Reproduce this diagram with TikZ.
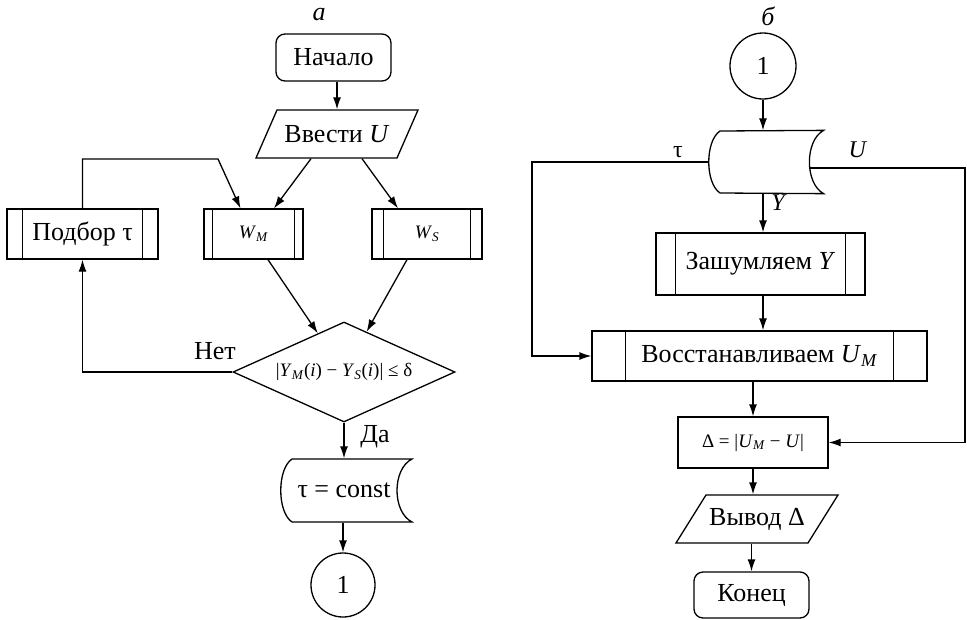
\documentclass[tikz,border=0pt]{standalone}
\usepackage{fontspec}
\setmainfont{Liberation Serif}
\usetikzlibrary{arrows.meta,calc,shapes.geometric}
\newcommand\pbars[2]{\draw ([xshift=#2]#1.north west) -- ([xshift=#2]#1.south west) ([xshift=-#2]#1.north east) -- ([xshift=-#2]#1.south east);}
\begin{document}
\begin{tikzpicture}[x=1pt,y=-1pt, line width=1.3pt,
 arr/.style={-{Latex[length=12pt,width=8pt]}},
 every node/.style={font=\fontsize{26}{30}\selectfont, inner sep=0pt},
 box/.style={draw, rectangle},
 ghost/.style={rectangle, draw=none},
 small/.style={font=\fontsize{19}{22}\selectfont},
 lbl/.style={font=\fontsize{24}{28}\selectfont},
 ttl/.style={font=\itshape\fontsize{26}{30}\selectfont}]
\useasboundingbox (0,0) rectangle (967,619);

% ---------- left diagram (a)
\node[ttl] (la) at (319,15) {а};
\node[box, rounded corners=9pt, minimum width=115pt, minimum height=47pt] (start) at (333.5,57.5) {Начало};
\node[ghost, minimum width=120pt, minimum height=48pt] (inU) at (337,134) {Ввести \textit{U}};
\draw ($(inU.center)+(-60,-24)$) -- ++(141,0) -- ++(-21,48) -- ++(-141,0) -- cycle;

\node[box, minimum width=151pt, minimum height=50pt] (pod) at (82.5,234) {Подбор τ};
\pbars{pod}{16}
\node[box, minimum width=99pt, minimum height=50pt, small] (wm) at (253.5,234) {\textit{W}\textsubscript{\textit{M}}};
\pbars{wm}{9}
\node[box, minimum width=110pt, minimum height=50pt, small] (ws) at (427,234) {\textit{W}\textsubscript{\textit{S}}};
\pbars{ws}{12}

\node[diamond, draw, minimum width=222pt, minimum height=100pt, aspect=2.2, small] (dia) at (344,372)
  {|\textit{Y}\textsubscript{\textit{M}}(\textit{i}) − \textit{Y}\textsubscript{\textit{S}}(\textit{i})| ≤ δ};

\node[ghost, minimum width=120pt, minimum height=63pt] (tc) at (344,490.5) {τ = const};
\draw ($(tc.center)+(-52,-31.5)$) -- ($(tc.center)+(68,-31.5)$)
  .. controls +(-20,10) and +(-20,-10) .. ($(tc.center)+(68,31.5)$)
  -- ($(tc.center)+(-52,31.5)$)
  .. controls +(-15,-10) and +(-15,10) .. ($(tc.center)+(-52,-31.5)$) -- cycle;

\node[draw, circle, minimum size=64pt] (c1) at (343,585) {1};

\draw[arr] (inU.north |- start.south) -- (inU.north);
\draw[arr] ($(inU.south)+(-26,0)$) -- ($(wm.north)+(20.5,0)$);
\draw[arr] ($(inU.south)+(25,0)$) -- ($(ws.north)+(-29,0)$);
\coordinate (fb) at (218,159);
\draw[arr] (pod.north) |- (fb) -- ($(wm.north)+(-13,0)$);
\draw[arr] ($(wm.south)+(14.5,0)$) -- (dia);
\draw[arr] ($(ws.south)+(-20,0)$) -- (dia);
\draw[arr] (dia.west) -| (pod.south);
\node (net) at (215,351) {Нет};
\draw[arr] (dia.south) -- (dia.south |- tc.north);
\node (da) at (375,437) {Да};
\draw[arr] (c1.north |- tc.south) -- (c1.north);

% ---------- right diagram (b)
\node[ttl] (lb) at (768,16) {б};
\node[draw, circle, minimum size=66pt] (c2) at (763,66) {1};
\node[ghost, minimum width=114pt, minimum height=62pt] (st) at (766,162) {};
\draw ($(st.center)+(-46,-31)$) -- (st.north east)
  .. controls +(-19,10) and +(-19,-10) .. (st.south east)
  -- ($(st.center)+(-46,31)$)
  .. controls +(-15,-10) and +(-15,10) .. ($(st.center)+(-46,-31)$) -- cycle;

\node[box, minimum width=209pt, minimum height=62pt] (zy) at (760.5,264) {Зашумляем \textit{Y}};
\pbars{zy}{20}
\node[box, minimum width=335pt, minimum height=50pt] (vos) at (759.5,356) {Восстанавливаем \textit{U}\textsubscript{\textit{M}}};
\pbars{vos}{34}
\node[box, minimum width=150pt, minimum height=51pt, small] (delta) at (753,442.5) {Δ = |\textit{U}\textsubscript{\textit{M}} − \textit{U}|};
\node[ghost, minimum width=110pt, minimum height=48pt] (out) at (757,519) {Вывод Δ};
\draw ($(out.center)+(-51,-24)$) -- ++(132,0) -- ++(-30,48) -- ++(-132,0) -- cycle;
\node[box, rounded corners=9pt, minimum width=115pt, minimum height=46pt] (fin) at (751.5,595) {Конец};

\draw[arr] (c2.south) -- (c2.south |- st.north);
\coordinate (tl) at (532,162);
\draw[arr] (st.west) -- (tl) |- (vos.west);
\node[lbl] (tau) at (678,152) {τ};
\coordinate (ur) at (810,168);
\coordinate (rr) at (965,168);
\draw[arr] (ur) -- (rr) |- (delta.east);
\node[lbl] (ul) at (858,150) {\textit{U}};
\draw[arr] (c2.south |- st.south) -- (c2.south |- zy.north);
\node[lbl] (yl) at (779,203) {\textit{Y}};
\draw[arr] (c2.south |- zy.south) -- (c2.south |- vos.north);
\draw[arr] (delta.north |- vos.south) -- (delta.north);
\draw[arr] (delta.south) -- (delta.south |- out.north);
\draw[arr] (fin.north |- out.south) -- (fin.north);
\end{tikzpicture}
\end{document}
